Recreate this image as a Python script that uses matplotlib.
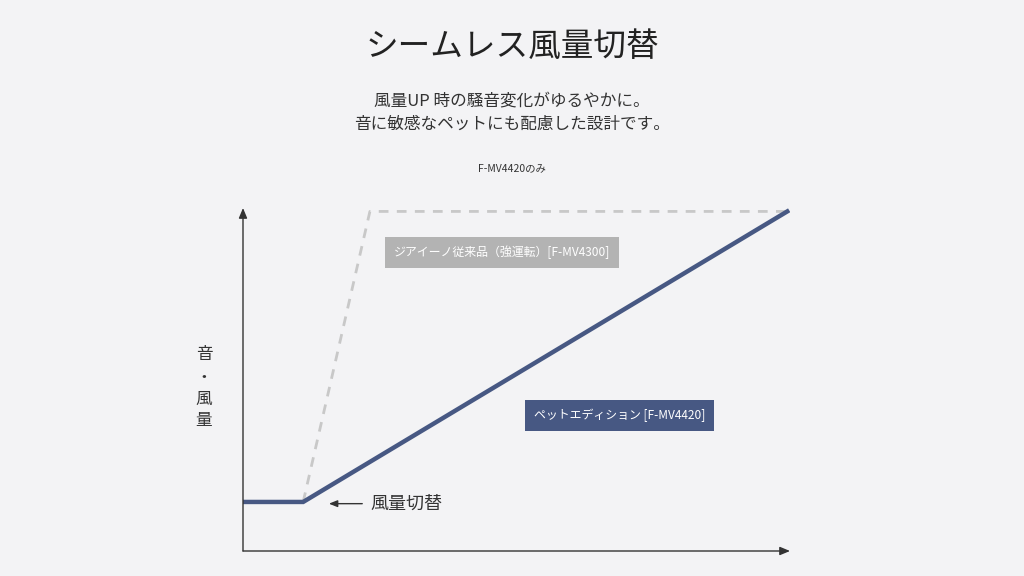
import matplotlib
matplotlib.use("Agg")
import matplotlib.pyplot as plt

plt.rcParams['font.family'] = ['Noto Sans CJK JP', 'DejaVu Sans']

# chart data (time vs. sound / air volume, arbitrary units 0-100)
pet_x = [0, 11, 99.5]
pet_y = [14.3, 14.3, 99]
old_x = [11, 23.2, 99.5]
old_y = [14.3, 99, 99]

title = "シームレス風量切替"
subtitle = "風量UP 時の騒音変化がゆるやかに。\n音に敏感なペットにも配慮した設計です。"
note = "F-MV4420のみ"
old_label = "ジアイーノ従来品（強運転）[F-MV4300]"
pet_label = "ペットエディション [F-MV4420]"
switch_label = "風量切替"
ylabel_chars = ["音", "・", "風", "量"]

bg = "#f3f3f5"
navy = "#475883"
grey = "#c8c8c8"
ink = "#333333"

fig = plt.figure(figsize=(10.24, 5.76), dpi=100)
fig.patch.set_facecolor(bg)

W, H = 1024, 576
ax = fig.add_axes([243 / W, (576 - 551) / H, (790 - 243) / W, (551 - 208) / H])
ax.set_facecolor(bg)
ax.set_xlim(0, 100)
ax.set_ylim(0, 100)
for s in ax.spines.values():
    s.set_visible(False)
ax.set_xticks([])
ax.set_yticks([])

# axes with arrow heads
ax.annotate("", xy=(0, 1.0), xytext=(0, 0), xycoords="axes fraction",
            arrowprops=dict(arrowstyle="-|>,head_length=0.6,head_width=0.25",
                            color="#333333", lw=1.0, shrinkA=0, shrinkB=0))
ax.annotate("", xy=(1.0, 0), xytext=(0, 0), xycoords="axes fraction",
            arrowprops=dict(arrowstyle="-|>,head_length=0.6,head_width=0.25",
                            color="#333333", lw=1.0, shrinkA=0, shrinkB=0))

ax.plot(old_x, old_y, color=grey, lw=2, ls=(0, (3.5, 3)), solid_capstyle="butt")
ax.plot(pet_x, pet_y, color=navy, lw=3.2, solid_joinstyle="miter")

ax.text(47.4, 87, old_label, ha="center", va="center", color="white", fontsize=8.6,
        bbox=dict(boxstyle="square,pad=0.75", fc="#b3b3b3", ec="none"))
ax.text(68.8, 39.5, pet_label, ha="center", va="center", color="white", fontsize=8.6,
        bbox=dict(boxstyle="square,pad=0.75", fc=navy, ec="none"))

ax.annotate("", xy=(15.7, 13.8), xytext=(21.8, 13.8),
            arrowprops=dict(arrowstyle="-|>,head_length=0.5,head_width=0.2",
                            color=ink, lw=1.0, shrinkA=0, shrinkB=0))
ax.text(23.3, 13.8, switch_label, ha="left", va="center", color=ink, fontsize=13)

# vertical y label
for i, ch in enumerate(ylabel_chars):
    fig.text(204 / W, 1 - (355 + i * 22) / H, ch, ha="center", va="center",
             color=ink, fontsize=12)

fig.text(0.5, 1 - 47 / H, title, ha="center", va="center", color="#222222", fontsize=23.5)
fig.text(0.5, 1 - 113 / H, subtitle, ha="center", va="center", color=ink,
         fontsize=12, linespacing=1.5)
fig.text(0.5, 1 - 168 / H, note, ha="center", va="center", color=ink, fontsize=7.5)

fig.savefig("out.png", dpi=100, facecolor=bg)
